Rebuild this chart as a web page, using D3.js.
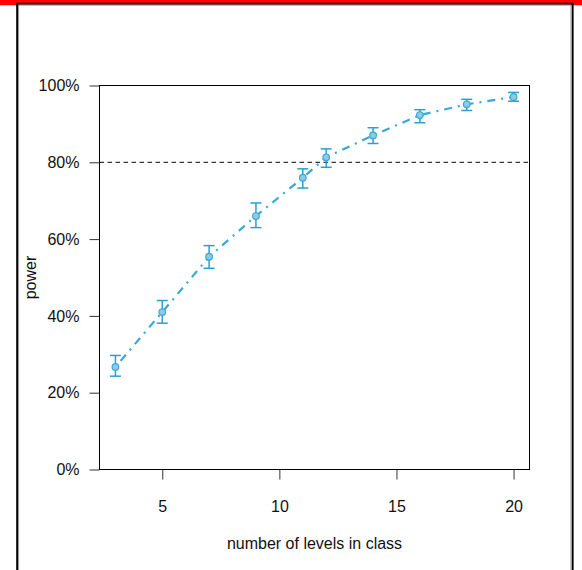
<!DOCTYPE html>
<html>
<head>
<meta charset="utf-8">
<script src="https://cdn.jsdelivr.net/npm/d3@7"></script>
<style>
  html, body { margin: 0; padding: 0; background: #fff; }
  svg { display: block; }
  text { font-family: "Liberation Sans", Arial, sans-serif; fill: #111; }
</style>
</head>
<body>
<svg id="chart" width="582" height="570"></svg>
<script>
// Power by number of class levels, with confidence intervals
const levels = [3, 5, 7, 9, 11, 12, 14, 16, 18, 20];
const power  = [0.267, 0.410, 0.554, 0.660, 0.760, 0.813, 0.870, 0.923, 0.951, 0.970];
const lower  = [0.243, 0.381, 0.524, 0.630, 0.733, 0.787, 0.849, 0.903, 0.935, 0.959];
const upper  = [0.297, 0.440, 0.583, 0.694, 0.783, 0.835, 0.890, 0.937, 0.964, 0.982];
const xTicks = [5, 10, 15, 20];
const yTicks = [0, 0.2, 0.4, 0.6, 0.8, 1.0];
const threshold = 0.8;

const W = 582, H = 570;
const svg = d3.select("#chart");

// window chrome: red strip and double border
svg.append("rect").attr("x", 0).attr("y", 0).attr("width", W).attr("height", 5.2).attr("fill", "#ff0000");
svg.append("path")
  .attr("d", `M17.2,${H} V3.7 H572.6 V${H}`)
  .attr("fill", "none").attr("stroke", "#000").attr("stroke-width", 2);
svg.append("path")
  .attr("d", `M18.6,${H} V5 H571 V${H}`)
  .attr("fill", "none").attr("stroke", "#9a9a9a").attr("stroke-width", 1);

// plotting region
const plotL = 99.5, plotR = 529.5, plotT = 85.5, plotB = 469.5;
const pad = (levels[levels.length - 1] - levels[0]) * 0.04;
const x = d3.scaleLinear().domain([levels[0] - pad, levels[levels.length - 1] + pad]).range([plotL, plotR]);
const y = d3.scaleLinear().domain([0, 1]).range([plotB, plotT]);

const fontSize = "16px";

// y axis
const yAxis = svg.append("g")
  .attr("transform", `translate(${plotL},0)`)
  .call(d3.axisLeft(y).tickValues(yTicks).tickFormat(d3.format(".0%")).tickSize(10).tickPadding(10));
yAxis.select(".domain").remove();
yAxis.selectAll("line").attr("stroke", "#333");
yAxis.selectAll("text").style("font-size", fontSize).attr("fill", "#111")
  .style("font-family", '"Liberation Sans", Arial, sans-serif');

// x axis
const xAxis = svg.append("g")
  .attr("transform", `translate(0,${plotB})`)
  .call(d3.axisBottom(x).tickValues(xTicks).tickFormat(d3.format("d")).tickSize(10).tickPadding(21));
xAxis.select(".domain").remove();
xAxis.selectAll("line").attr("stroke", "#333");
xAxis.selectAll("text").style("font-size", fontSize).attr("fill", "#111")
  .style("font-family", '"Liberation Sans", Arial, sans-serif');

// box
svg.append("rect")
  .attr("x", plotL).attr("y", plotT).attr("width", plotR - plotL).attr("height", plotB - plotT)
  .attr("fill", "none").attr("stroke", "#000").attr("stroke-width", 1);

// threshold line
svg.append("line")
  .attr("x1", plotL).attr("x2", plotR).attr("y1", y(threshold)).attr("y2", y(threshold))
  .attr("stroke", "#000").attr("stroke-width", 1).attr("stroke-dasharray", "4.5,3.5");

// axis titles
svg.append("text")
  .attr("x", (plotL + plotR) / 2).attr("y", 549)
  .attr("text-anchor", "middle").style("font-size", fontSize)
  .text("number of levels in class");
svg.append("text")
  .attr("transform", `translate(35.5,${(plotT + plotB) / 2}) rotate(-90)`)
  .attr("text-anchor", "middle").style("font-size", fontSize)
  .text("power");

const pts = levels.map((l, i) => ({ l, p: power[i], lo: lower[i], hi: upper[i] }));
const lineColor = "#3aa8d6";
const barColor = "#2a9fd2";

// dot-dash connecting line
svg.append("path")
  .datum(pts)
  .attr("d", d3.line().x(d => x(d.l)).y(d => y(d.p)))
  .attr("fill", "none").attr("stroke", lineColor).attr("stroke-width", 2.2)
  .attr("stroke-dasharray", "2,6,8,6");

// error bars
const eb = svg.append("g").attr("stroke", barColor).attr("stroke-width", 1.5);
eb.selectAll("line.v").data(pts).join("line").attr("class", "v")
  .attr("x1", d => x(d.l)).attr("x2", d => x(d.l))
  .attr("y1", d => y(d.lo)).attr("y2", d => y(d.hi));
eb.selectAll("line.t").data(pts).join("line").attr("class", "t")
  .attr("x1", d => x(d.l) - 5.5).attr("x2", d => x(d.l) + 5.5)
  .attr("y1", d => y(d.hi)).attr("y2", d => y(d.hi));
eb.selectAll("line.b").data(pts).join("line").attr("class", "b")
  .attr("x1", d => x(d.l) - 5.5).attr("x2", d => x(d.l) + 5.5)
  .attr("y1", d => y(d.lo)).attr("y2", d => y(d.lo));

// points
svg.append("g").selectAll("circle").data(pts).join("circle")
  .attr("cx", d => x(d.l)).attr("cy", d => y(d.p)).attr("r", 3.3)
  .attr("fill", "#8ccbe6").attr("stroke", lineColor).attr("stroke-width", 1.2);
</script>
</body>
</html>
